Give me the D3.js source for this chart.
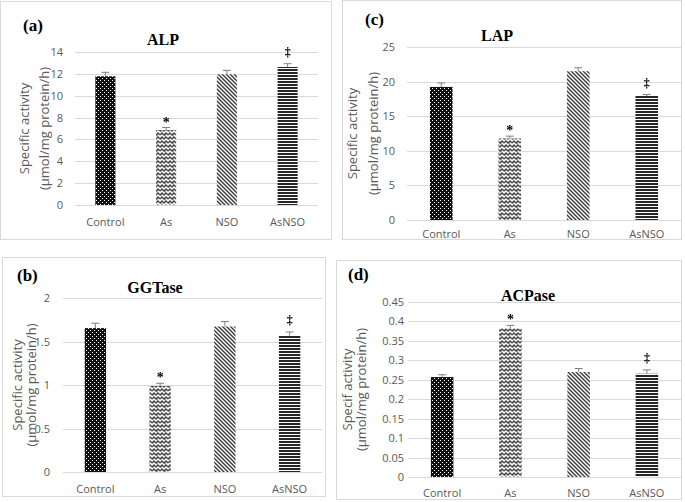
<!DOCTYPE html>
<html>
<head>
<meta charset="utf-8">
<script src="https://cdn.jsdelivr.net/npm/d3@7/dist/d3.min.js"></script>
<style>
  html, body { margin: 0; padding: 0; background: #fff; }
  svg { display: block; }
</style>
</head>
<body>
<svg id="chart" width="685" height="502"></svg>
<script>
// ---------- data ----------
const categories = ["Control", "As", "NSO", "AsNSO"];

const alpValues = [11.78, 6.85, 11.96, 12.63];
const alpErrors = [0.36, 0.24, 0.36, 0.30];
const alpTicks = [0, 2, 4, 6, 8, 10, 12, 14];

const lapValues = [19.23, 11.78, 21.5, 17.93];
const lapErrors = [0.57, 0.34, 0.5, 0.2];
const lapTicks = [0, 5, 10, 15, 20, 25];

const ggtValues = [1.654, 0.988, 1.673, 1.565];
const ggtErrors = [0.056, 0.032, 0.057, 0.045];
const ggtTicks = [0, 0.5, 1, 1.5, 2];

const acpValues = [0.257, 0.382, 0.270, 0.2655];
const acpErrors = [0.006, 0.008, 0.009, 0.010];
const acpTicks = [0, 0.05, 0.1, 0.15, 0.2, 0.25, 0.3, 0.35, 0.4, 0.45];

const markers = ["", "*", "", "\u2021"];
const panelLetters = ["(a)", "(b)", "(c)", "(d)"];
const panelTitles = ["ALP", "GGTase", "LAP", "ACPase"];
const yTitleLine1 = ["Specific activity", "Specific activity", "Specific activity", "Specif activity"];
const yTitleLine2 = "(\u00b5mol/mg protein/h)";

// ---------- drawing ----------
const svg = d3.select("#chart");
const defs = svg.append("defs");

// grayscale text smoothing helper
const flt = defs.append("filter").attr("id", "gray").attr("x", "-50%").attr("y", "-50%")
  .attr("width", "200%").attr("height", "200%");
flt.append("feOffset").attr("dx", 0).attr("dy", 0);

// Control: black with white dots
const pC = defs.append("pattern").attr("id", "patControl").attr("patternUnits", "userSpaceOnUse")
  .attr("width", 4).attr("height", 4);
pC.append("rect").attr("width", 4).attr("height", 4).attr("fill", "#111");
pC.append("rect").attr("x", 0).attr("y", 0).attr("width", 1).attr("height", 1).attr("fill", "#fff");
pC.append("rect").attr("x", 2).attr("y", 2).attr("width", 1).attr("height", 1).attr("fill", "#fff");

// As: zigzag weave
const pA = defs.append("pattern").attr("id", "patAs").attr("patternUnits", "userSpaceOnUse")
  .attr("width", 8).attr("height", 8);
pA.append("rect").attr("width", 8).attr("height", 8).attr("fill", "#fff");
pA.append("path").attr("d", "M0,3 L2,1 L4,3 L6,1 L8,3 M0,7 L2,5 L4,7 L6,5 L8,7")
  .attr("fill", "none").attr("stroke", "#444").attr("stroke-width", 1.4);
pA.append("path").attr("d", "M1,2 L1,4 M5,6 L5,8 M5,0 L5,0.5")
  .attr("fill", "none").attr("stroke", "#444").attr("stroke-width", 1);

// NSO: downward diagonal lines
const pN = defs.append("pattern").attr("id", "patNSO").attr("patternUnits", "userSpaceOnUse")
  .attr("width", 4).attr("height", 4);
pN.append("rect").attr("width", 4).attr("height", 4).attr("fill", "#fff");
pN.append("path").attr("d", "M-1,-1 L5,5 M-1,3 L1,5 M3,-1 L5,1")
  .attr("stroke", "#3a3a3a").attr("stroke-width", 1.4);

// AsNSO: horizontal lines
const pH = defs.append("pattern").attr("id", "patAsNSO").attr("patternUnits", "userSpaceOnUse")
  .attr("width", 4).attr("height", 3);
pH.append("rect").attr("width", 4).attr("height", 3).attr("fill", "#fff");
pH.append("rect").attr("width", 4).attr("height", 2).attr("fill", "#262626");

const fills = ["url(#patControl)", "url(#patAs)", "url(#patNSO)", "url(#patAsNSO)"];

const panels = [
  { letter: panelLetters[0], title: panelTitles[0], values: alpValues, errors: alpErrors, ticks: alpTicks,
    yt1: yTitleLine1[0], border: [0.5, 1.5, 331.5, 239.5], x0: 75, x1: 318, yTop: 52, yBot: 205,
    tickRight: 63, yTitleX: [24, 44], titleX: 163, titleY: 45, letterX: 23, letterY: 31, xLabelY: 226 },
  { letter: panelLetters[2], title: panelTitles[2], values: lapValues, errors: lapErrors, ticks: lapTicks,
    yt1: yTitleLine1[2], border: [342.5, 0.5, 681.5, 239.5], x0: 407, x1: 681, yTop: 47, yBot: 220,
    tickRight: 395, yTitleX: [352, 373], titleX: 497, titleY: 41, letterX: 365, letterY: 25, xLabelY: 238 },
  { letter: panelLetters[1], title: panelTitles[1], values: ggtValues, errors: ggtErrors, ticks: ggtTicks,
    yt1: yTitleLine1[1], border: [2.5, 257.5, 325.5, 496.5], x0: 63, x1: 322, yTop: 298, yBot: 472,
    tickRight: 50, yTitleX: [17, 31], titleX: 155, titleY: 293, letterX: 17, letterY: 281, xLabelY: 493 },
  { letter: panelLetters[3], title: panelTitles[3], values: acpValues, errors: acpErrors, ticks: acpTicks,
    yt1: yTitleLine1[3], border: [336.5, 260.5, 681.5, 499.5], x0: 408, x1: 681, yTop: 302, yBot: 477,
    tickRight: 404, yTitleX: [347, 361], titleX: 528, titleY: 301, letterX: 348, letterY: 280, xLabelY: 497 }
];

const sansFont = "'Open Sans', 'Liberation Sans', sans-serif";
const serifFont = "'Liberation Serif', 'DejaVu Serif', serif";

panels.forEach(p => {
  const g = svg.append("g");
  const [bx0, by0, bx1, by1] = p.border;
  g.append("rect").attr("x", bx0).attr("y", by0).attr("width", bx1 - bx0).attr("height", by1 - by0)
    .attr("fill", "#fff").attr("stroke", "#d9d9d9").attr("stroke-width", 1);

  const yMax = p.ticks[p.ticks.length - 1];
  const y = d3.scaleLinear().domain([0, yMax]).range([p.yBot, p.yTop]);
  const x = d3.scaleBand().domain(categories).range([p.x0, p.x1]).paddingInner(0.67).paddingOuter(0.335);

  // gridlines via axis
  const yAxis = d3.axisLeft(y).tickValues(p.ticks).tickSize(-(p.x1 - p.x0)).tickPadding(p.x0 - p.tickRight)
    .tickFormat(d => d3.format("~g")(+d.toFixed(4)));
  const ya = g.append("g").attr("transform", `translate(${p.x0},0)`).call(yAxis);
  ya.select(".domain").remove();
  ya.selectAll(".tick line").attr("stroke", "#d9d9d9").attr("stroke-width", 1)
    .attr("shape-rendering", "crispEdges");
  ya.selectAll(".tick text").attr("fill", "#595959").style("font-family", sansFont).style("font-size", "11px");

  // x axis labels
  const xAxis = d3.axisBottom(x).tickSize(0).tickPadding(0);
  const xa = g.append("g").attr("transform", `translate(0,${p.yBot})`).call(xAxis);
  xa.select(".domain").attr("stroke", "#d9d9d9").attr("shape-rendering", "crispEdges")
    .attr("d", `M${p.x0},0.5H${p.x1}`);
  xa.selectAll(".tick text").attr("fill", "#595959").style("font-family", sansFont).style("font-size", "11px")
    .attr("dy", null).attr("y", p.xLabelY - p.yBot);

  // bars
  g.selectAll("rect.bar").data(p.values).join("rect").attr("class", "bar")
    .attr("x", (d, i) => x(categories[i]))
    .attr("width", x.bandwidth())
    .attr("y", d => y(d))
    .attr("height", d => p.yBot - y(d))
    .attr("fill", (d, i) => fills[i]);

  // error bars (upper only)
  const eb = g.selectAll("g.err").data(p.values).join("g").attr("class", "err");
  eb.append("line")
    .attr("x1", (d, i) => x(categories[i]) + x.bandwidth() / 2)
    .attr("x2", (d, i) => x(categories[i]) + x.bandwidth() / 2)
    .attr("y1", d => y(d))
    .attr("y2", (d, i) => y(d + p.errors[i]))
    .attr("stroke", "#7f7f7f").attr("stroke-width", 1);
  eb.append("line")
    .attr("x1", (d, i) => x(categories[i]) + x.bandwidth() / 2 - 4)
    .attr("x2", (d, i) => x(categories[i]) + x.bandwidth() / 2 + 4)
    .attr("y1", (d, i) => y(d + p.errors[i]))
    .attr("y2", (d, i) => y(d + p.errors[i]))
    .attr("stroke", "#7f7f7f").attr("stroke-width", 1);

  // significance markers
  const mg = g.append("g").attr("filter", "url(#gray)");
  mg.selectAll("text.mark").data(p.values).join("text").attr("class", "mark")
    .attr("x", (d, i) => x(categories[i]) + x.bandwidth() / 2)
    .attr("y", (d, i) => {
      const top = y(d + p.errors[i]);
      return markers[i] === "*" ? top - 8 + 7 : top - 12 + 4;
    })
    .attr("text-anchor", "middle")
    .style("font-family", serifFont).style("font-weight", "bold")
    .style("font-size", (d, i) => markers[i] === "*" ? "14px" : "12px")
    .attr("fill", "#000")
    .text((d, i) => markers[i]);

  // titles
  g.append("text").attr("x", p.titleX).attr("y", p.titleY).attr("text-anchor", "middle")
    .style("font-family", serifFont).style("font-weight", "bold").style("font-size", "16px")
    .attr("fill", "#000").text(p.title);
  g.append("text").attr("x", p.letterX).attr("y", p.letterY)
    .style("font-family", serifFont).style("font-weight", "bold").style("font-size", "17px")
    .attr("fill", "#000").text(p.letter);

  // y-axis title (two lines)
  const yc = (p.yTop + p.yBot) / 2;
  [p.yt1, yTitleLine2].forEach((t, k) => {
    g.append("text").attr("transform", `translate(${p.yTitleX[k]},${yc}) rotate(-90)`)
      .attr("text-anchor", "middle").attr("dominant-baseline", "central")
      .style("font-family", sansFont).style("font-size", "13px").attr("fill", "#595959").text(t);
  });
});
</script>
</body>
</html>
